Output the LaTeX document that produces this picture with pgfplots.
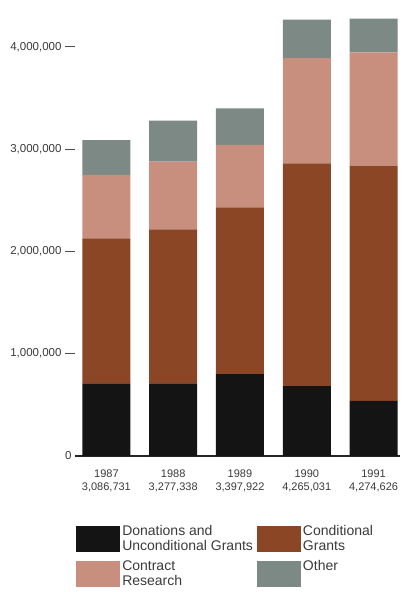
\documentclass[border=0pt]{standalone}
\usepackage{fontspec}
\setmainfont{Liberation Sans}
\usepackage{pgfplots}
\pgfplotsset{compat=1.18}
\definecolor{cDon}{HTML}{141414}
\definecolor{cCon}{HTML}{8B4725}
\definecolor{cRes}{HTML}{C88F7E}
\definecolor{cOth}{HTML}{7D8985}
\definecolor{cTxt}{HTML}{3A3A3A}
\pgfplotsset{myleg/.style={legend image code/.code={\fill[##1] (0pt,-13pt) rectangle (44pt,13pt);}}}
\begin{document}
\begin{tikzpicture}[x=1pt,y=1pt]
\useasboundingbox (0,0) rectangle (406,592);
\begin{axis}[
  at={(75pt,136pt)}, anchor=south west,
  scale only axis, width=325pt, height=456pt,
  ybar stacked, bar width=48pt,
  xmin=-0.47, xmax=4.396, ymin=0, ymax=4457000,
  xtick={0,1,2,3,4},
  xticklabels={{1987\\3,086,731},{1988\\3,277,338},{1989\\3,397,922},{1990\\4,265,031},{1991\\4,274,626}},
  xticklabel style={align=center, font=\fontsize{11}{13}\selectfont, text=cTxt},
  axis x line*=bottom, axis y line*=left,
  y axis line style={draw=none},
  x axis line style={draw=black!85, line width=1.1pt},
  ytick={1000000,2000000,3000000,4000000},
  extra y ticks={0}, extra y tick style={major tick length=0pt},
  scaled y ticks=false,
  /pgf/number format/.cd, fixed, 1000 sep={,}, assume math mode=true, /pgfplots/.cd,
  yticklabel style={font=\fontsize{11.5}{13}\selectfont, text=cTxt},
  tick align=outside, major tick length=10pt,
  ytick style={draw=black!70, line width=0.8pt},
  xtick style={draw=none},
  legend columns=2,
  legend style={at={(-0.006,-0.142)}, anchor=north west, draw=none, fill=none,
    font=\fontsize{14}{15.5}\selectfont, text=cTxt,
    cells={align=left, anchor=west},
    /tikz/every even column/.append style={column sep=2pt}, row sep=4pt},
]
\addplot[fill=cDon, draw=none, myleg] coordinates {(0,711000) (1,711000) (2,800000) (3,684000) (4,538000)};
\addplot[fill=cCon, draw=none, myleg] coordinates {(0,1417000) (1,1505000) (2,1631000) (3,2177000) (4,2300000)};
\addplot[fill=cRes, draw=none, myleg] coordinates {(0,619000) (1,661000) (2,609000) (3,1027000) (4,1108000)};
\addplot[fill=cOth, draw=none, myleg] coordinates {(0,339731) (1,400338) (2,357922) (3,377031) (4,328626)};
\legend{{Donations and\\Unconditional Grants},{Conditional\\Grants},{Contract\\Research},{Other\\\mbox{}}}
\end{axis}
\end{tikzpicture}
\end{document}
